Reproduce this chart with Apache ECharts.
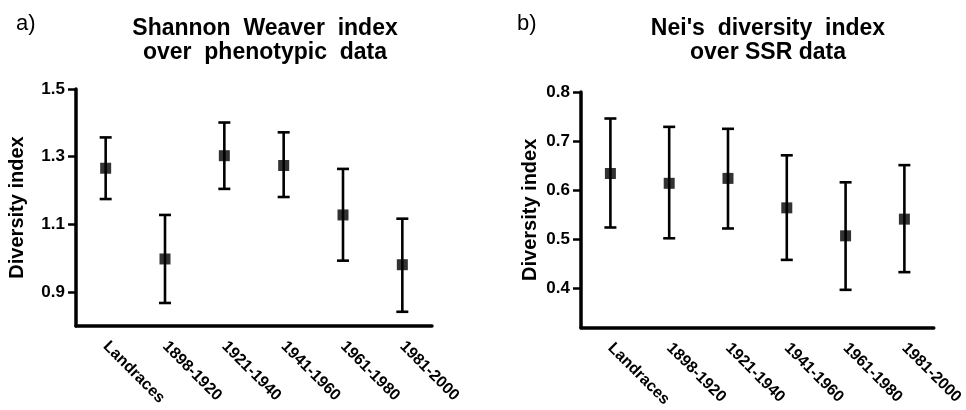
<!DOCTYPE html>
<html>
<head>
<meta charset="utf-8">
<script src="https://cdn.jsdelivr.net/npm/echarts@6/dist/echarts.min.js"></script>
<style>
html,body{margin:0;padding:0;background:#fff;}
#chart{width:966px;height:410px;}
</style>
</head>
<body>
<div id="chart"></div>
<script>
const categories = ['Landraces', '1898-1920', '1921-1940', '1941-1960', '1961-1980', '1981-2000'];

// Panel a) Shannon Weaver index over phenotypic data
const meanA = [1.266, 0.998, 1.303, 1.274, 1.128, 0.981];
const lowA  = [1.175, 0.868, 1.205, 1.181, 0.993, 0.842];
const highA = [1.357, 1.128, 1.401, 1.372, 1.264, 1.117];
const ticksA = [0.9, 1.1, 1.3, 1.5];

// Panel b) Nei's diversity index over SSR data
const meanB = [0.634, 0.614, 0.624, 0.564, 0.507, 0.541];
const lowB  = [0.524, 0.502, 0.522, 0.458, 0.397, 0.433];
const highB = [0.746, 0.729, 0.725, 0.671, 0.616, 0.651];
const ticksB = [0.4, 0.5, 0.6, 0.7, 0.8];

const FONT = '"Liberation Sans", Arial, Helvetica, sans-serif';

function errorBarSeries(gridIdx, low, high) {
  return {
    type: 'custom',
    xAxisIndex: gridIdx,
    yAxisIndex: gridIdx,
    z: 2,
    silent: true,
    data: categories.map((c, i) => [i, low[i], high[i]]),
    renderItem: function (params, api) {
      const x = api.value(0);
      const pLo = api.coord([x, api.value(1)]);
      const pHi = api.coord([x, api.value(2)]);
      const hw = 6;
      const style = { stroke: '#000', lineWidth: 2.6, fill: null };
      return {
        type: 'group',
        children: [
          { type: 'line', shape: { x1: pLo[0], y1: pLo[1], x2: pHi[0], y2: pHi[1] }, style: style },
          { type: 'line', shape: { x1: pLo[0] - hw, y1: pLo[1], x2: pLo[0] + hw, y2: pLo[1] }, style: style },
          { type: 'line', shape: { x1: pHi[0] - hw, y1: pHi[1], x2: pHi[0] + hw, y2: pHi[1] }, style: style }
        ]
      };
    }
  };
}

function meanSeries(gridIdx, mean) {
  return {
    type: 'scatter',
    xAxisIndex: gridIdx,
    yAxisIndex: gridIdx,
    z: 3,
    symbol: 'rect',
    symbolSize: 11,
    itemStyle: { color: '#000' },
    data: mean
  };
}

function xAxisCfg(gridIdx) {
  return {
    type: 'category',
    gridIndex: gridIdx,
    data: categories,
    boundaryGap: true,
    axisLine: { lineStyle: { color: '#000', width: 3.5 } },
    axisTick: { alignWithLabel: true, length: 7, lineStyle: { color: '#000', width: 2.5 } },
    axisLabel: {
      rotate: -45,
      margin: 18,
      color: '#000',
      fontFamily: FONT,
      fontWeight: 'bold',
      fontSize: 16,
      interval: 0
    },
    splitLine: { show: false }
  };
}

function yAxisCfg(gridIdx, min, max, ticks, nameGap) {
  return {
    type: 'value',
    gridIndex: gridIdx,
    min: min,
    max: max,
    name: 'Diversity index',
    nameLocation: 'middle',
    nameGap: nameGap,
    nameTextStyle: { color: '#000', fontFamily: FONT, fontWeight: 'bold', fontSize: 20 },
    axisLine: { show: true, lineStyle: { color: '#000', width: 3.5 } },
    axisTick: { show: true, length: 8, customValues: ticks, lineStyle: { color: '#000', width: 2.5 } },
    axisLabel: {
      customValues: ticks,
      margin: 11,
      color: '#000',
      fontFamily: FONT,
      fontWeight: 'bold',
      fontSize: 17,
      formatter: v => Number(v).toFixed(1)
    },
    splitLine: { show: false }
  };
}

const chart = echarts.init(document.getElementById('chart'), null, { renderer: 'canvas' });
chart.setOption({
  backgroundColor: '#fff',
  animation: false,
  title: [
    { text: 'a)', left: 11, top: 8, textStyle: { fontFamily: FONT, fontWeight: 'normal', fontSize: 22, color: '#000' } },
    { text: 'b)', left: 512, top: 8, textStyle: { fontFamily: FONT, fontWeight: 'normal', fontSize: 22, color: '#000' } },
    { text: 'Shannon  Weaver  index\nover  phenotypic  data', left: 260, top: 12, textAlign: 'center',
      textStyle: { fontFamily: FONT, fontWeight: 'bold', fontSize: 23, lineHeight: 24, color: '#000' } },
    { text: "Nei's  diversity  index\nover SSR data", left: 763, top: 12, textAlign: 'center',
      textStyle: { fontFamily: FONT, fontWeight: 'bold', fontSize: 23, lineHeight: 24, color: '#000' } }
  ],
  grid: [
    { left: 76, top: 89, width: 356, height: 237 },
    { left: 581, top: 92, width: 356, height: 236 }
  ],
  xAxis: [xAxisCfg(0), xAxisCfg(1)],
  yAxis: [yAxisCfg(0, 0.8, 1.5, ticksA, 49), yAxisCfg(1, 0.32, 0.8, ticksB, 41)],
  series: [
    errorBarSeries(0, lowA, highA),
    meanSeries(0, meanA),
    errorBarSeries(1, lowB, highB),
    meanSeries(1, meanB)
  ]
});
</script>
</body>
</html>
